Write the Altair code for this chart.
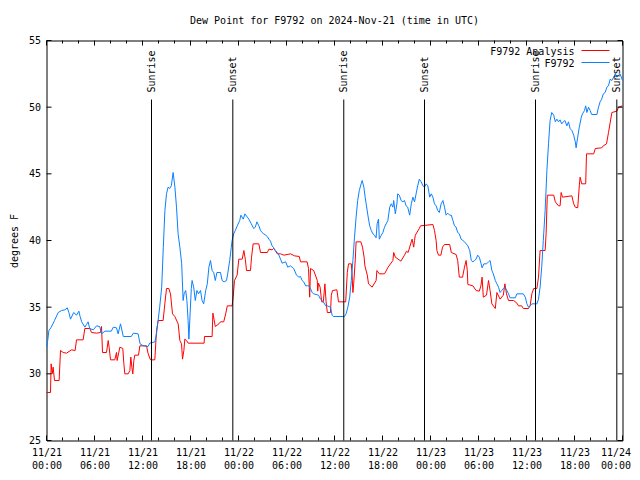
import altair as alt
import pandas as pd

# ---------------- data ----------------
title_text = "Dew Point for F9792 on 2024-Nov-21 (time in UTC)"
series_names = ["F9792 Analysis", "F9792"]
series_colors = ["#ff0000", "#0a80ff"]

# hours since 2024-11-21 00:00 UTC
red_hours = [0, 0.5, 0.58, 0.71, 0.83, 1.0, 1.58, 1.75, 2.08, 2.5, 3.13, 3.58, 3.75, 4.58, 4.79, 5.42, 5.63,
             6.25, 6.75, 6.88, 7.0, 7.5, 7.71, 7.83, 8.0, 8.54, 8.75, 8.83, 9.17, 9.54, 9.67, 9.79, 10.21,
             10.42, 10.54, 10.67, 10.79, 10.92, 11.04, 11.5, 11.67, 12.5, 12.71, 13.0, 13.54, 13.75, 13.96,
             14.58, 14.79, 15.0, 15.29, 15.5, 15.75, 16.04, 16.46, 16.67, 16.88, 17.0, 17.17, 17.29, 17.5,
             17.71, 19.7, 19.75, 20.7, 20.8, 21.1, 21.55, 21.75, 22.15, 22.4, 22.6, 23.2, 23.33, 23.5, 23.83,
             24.04, 24.46, 24.67, 24.85, 25.0, 25.5, 25.63, 25.83, 26.54, 26.75, 27.6, 27.8, 28.2, 28.4, 28.6,
             28.85, 29.25, 29.67, 30.5, 31.0, 31.6, 31.75, 32.58, 32.75, 32.9, 33.0, 33.4, 33.85, 33.9, 34.0,
             34.2, 34.4, 34.6, 34.8, 34.95, 35.1, 35.5, 35.6, 35.75, 36.3, 36.5, 37.4, 37.6, 37.75, 38.1,
             38.2, 38.3, 38.4, 38.6, 38.7, 39.3, 39.5, 39.7, 39.8, 40.1, 40.25, 40.7, 41.2, 41.3, 41.6, 42.25,
             42.7, 43.3, 43.4, 43.6, 44.3, 44.75, 45.0, 45.2, 45.6, 45.7, 45.9, 46.0, 46.1, 46.6, 46.75, 48.3,
             48.5, 48.7, 48.8, 49.0, 49.3, 49.5, 49.75, 50.4, 50.6, 51.2, 51.4, 51.6, 52.0, 52.25, 52.45, 52.6,
             52.67, 53.3, 53.7, 54.1, 54.3, 54.45, 54.6, 55.0, 55.25, 55.45, 55.67, 56.1, 56.3, 56.7, 57.1,
             57.3, 57.5, 57.75, 58.4, 58.8, 59.0, 59.4, 59.6, 60.25, 60.45, 60.67, 60.9, 61.3, 61.5, 61.7,
             62.33, 62.45, 62.6, 63.4, 63.6, 64.0, 64.2, 64.33, 64.5, 65.67, 65.9, 66.1, 66.4, 66.6, 66.7,
             66.9, 67.4, 67.5, 68.4, 68.6, 69.4, 69.6, 70.0, 70.25, 70.67, 71.3, 71.5, 72.0]
red_values = [28.6, 28.6, 30.75, 30.0, 30.5, 29.5, 29.5, 31.75, 31.6, 31.55, 31.8, 31.75, 32.55, 32.55, 33.4,
              33.4, 33.1, 33.05, 33.1, 33.55, 31.6, 31.6, 32.5, 32.0, 31.05, 31.05, 31.6, 31.0, 32.0, 31.9,
              30.75, 30.0, 30.0, 30.25, 31.25, 30.5, 30.0, 31.0, 31.4, 31.4, 32.1, 32.1, 31.5, 31.05, 31.05,
              33.25, 34.0, 34.0, 35.25, 36.4, 36.4, 36.0, 34.5, 34.3, 33.75, 32.5, 32.25, 31.1, 31.75, 32.6,
              32.5, 32.3, 32.3, 32.8, 32.8, 34.55, 33.55, 33.75, 33.9, 33.9, 34.5, 35.1, 35.1, 35.75, 37.0,
              37.4, 38.6, 38.6, 39.25, 38.6, 37.75, 37.75, 38.75, 39.75, 39.75, 39.1, 39.1, 39.35, 39.3, 39.4,
              39.25, 39.0, 39.0, 38.9, 39.0, 38.85, 38.8, 38.4, 38.4, 37.9, 35.75, 37.9, 37.75, 37.0, 36.2,
              36.8, 36.5, 35.4, 35.4, 36.75, 35.4, 34.6, 34.6, 35.9, 36.25, 36.3, 35.4, 35.4, 37.6, 38.25,
              38.25, 37.4, 36.1, 36.75, 38.6, 39.9, 39.9, 39.5, 38.75, 38.1, 37.4, 36.75, 36.5, 37.0, 37.75,
              37.5, 37.5, 38.0, 38.5, 39.1, 38.75, 38.45, 38.9, 39.2, 39.1, 39.9, 40.1, 39.5, 40.0, 40.4, 40.9,
              41.1, 41.2, 40.75, 40.0, 39.25, 38.9, 38.9, 39.5, 39.7, 39.7, 39.1, 38.95, 38.5, 37.25, 37.25,
              38.0, 38.5, 37.75, 36.7, 36.6, 36.25, 36.2, 36.6, 37.25, 35.75, 35.9, 37.0, 36.25, 35.25, 34.9,
              36.1, 35.6, 35.9, 36.75, 36.0, 35.5, 35.5, 35.3, 35.1, 35.1, 34.9, 34.9, 35.1, 36.0, 36.4, 36.4,
              37.25, 39.25, 39.25, 40.5, 43.4, 43.4, 42.9, 42.6, 42.6, 43.6, 43.25, 43.35, 42.75, 42.5, 42.45,
              44.1, 44.75, 44.25, 44.25, 46.5, 46.5, 46.9, 46.95, 47.1, 47.25, 48.1, 49.6, 49.7, 50.0, 50.1]

blue_hours = [0, 0.15, 0.3, 0.6, 1.0, 1.46, 1.9, 2.3, 2.6, 2.8, 3.0, 3.4, 3.75, 4.05, 4.2, 4.4, 4.8, 5.0, 5.2,
              5.4, 5.85, 6.25, 6.65, 6.9, 7.3, 8.1, 8.35, 8.75, 8.95, 9.25, 9.6, 10.6, 10.85, 11.45, 11.7,
              12.1, 12.7, 12.9, 13.55, 13.75, 13.95, 14.15, 14.4, 14.6, 14.8, 15.0, 15.2, 15.4, 15.6, 15.83,
              16.05, 16.25, 16.45, 16.67, 16.9, 17.08, 17.2, 17.4, 17.55, 17.7, 17.8, 17.95, 18.1, 18.2, 18.4,
              18.6, 18.8, 19.0, 19.25, 19.45, 19.65, 19.9, 20.1, 20.3, 20.5, 20.7, 20.9, 21.1, 21.3, 21.75,
              21.95, 22.2, 22.5, 22.65, 22.9, 23.1, 23.2, 23.4, 23.6, 23.85, 24.15, 24.3, 24.6, 24.8, 25.1,
              25.3, 25.6, 25.9, 26.1, 26.3, 26.55, 26.75, 26.95, 27.15, 27.4, 27.6, 27.8, 28.0, 28.2, 28.4,
              28.6, 28.85, 29.05, 29.25, 29.45, 29.9, 30.15, 30.5, 30.7, 30.9, 31.25, 31.55, 31.75, 31.95,
              32.15, 32.4, 32.6, 32.8, 33.0, 33.2, 33.4, 34.0, 34.25, 34.6, 34.9, 35.1, 35.5, 35.7, 35.85,
              37.25, 37.45, 37.67, 37.9, 38.1, 38.3, 38.5, 38.7, 38.9, 39.1, 39.33, 39.46, 39.67, 39.83, 39.96,
              40.17, 40.4, 40.6, 40.8, 41.0, 41.2, 41.33, 41.5, 41.6, 41.85, 42.05, 42.25, 42.45, 42.67, 42.9,
              43.1, 43.3, 43.4, 43.6, 43.8, 43.9, 44.1, 44.33, 44.55, 44.75, 44.95, 45.15, 45.4, 45.6, 45.8,
              46.0, 46.2, 46.4, 46.6, 46.83, 47.05, 47.25, 47.45, 47.67, 47.9, 48.1, 48.3, 48.5, 48.7, 48.9,
              49.1, 49.33, 49.55, 49.75, 49.95, 50.15, 50.4, 50.6, 50.8, 51.0, 51.2, 51.4, 51.6, 51.83, 52.05,
              52.25, 52.45, 52.67, 52.9, 53.1, 53.3, 53.5, 53.7, 53.9, 54.1, 54.33, 54.45, 54.67, 55.0, 55.25,
              55.45, 55.67, 55.85, 56.1, 56.3, 56.5, 56.7, 56.9, 57.1, 57.3, 57.55, 57.75, 57.95, 58.6, 58.8,
              59.6, 59.85, 60.05, 60.25, 60.45, 60.67, 61.3, 61.5, 61.7, 61.9, 62.1, 62.33, 62.55, 62.75, 62.95,
              63.15, 63.4, 63.6, 63.8, 64.0, 64.2, 64.4, 64.6, 64.8, 65.05, 65.25, 65.45, 65.67, 65.9, 66.1,
              66.2, 66.4, 66.6, 66.85, 67.0, 67.25, 67.4, 67.55, 67.75, 67.95, 68.15, 68.8, 69.0, 69.2, 69.4,
              69.6, 69.83, 70.05, 70.25, 70.45, 70.67, 70.9, 71.1, 71.3, 71.5, 71.7, 72.0]
blue_values = [32.0, 32.5, 33.25, 33.5, 34.0, 34.6, 34.75, 34.8, 34.95, 34.6, 34.1, 34.6, 34.4, 34.7, 34.3, 33.9,
               33.5, 33.7, 33.9, 33.4, 33.3, 33.6, 33.55, 33.0, 33.2, 33.2, 33.5, 33.45, 33.0, 33.75, 32.8,
               32.8, 33.05, 33.0, 32.25, 32.1, 32.05, 32.3, 32.4, 33.0, 34.0, 35.0, 36.5, 39.5, 42.25, 43.5,
               44.0, 43.9, 44.1, 45.1, 44.0, 42.5, 40.5, 39.5, 38.25, 35.5, 36.0, 36.25, 35.5, 34.0, 32.6, 34.5,
               36.4, 37.0, 36.5, 35.5, 36.25, 36.0, 36.25, 35.5, 35.25, 36.25, 36.75, 38.0, 38.5, 37.75, 37.6,
               37.0, 37.6, 37.6, 37.0, 36.9, 37.0, 37.5, 38.5, 39.5, 40.0, 40.5, 40.75, 41.1, 41.5, 41.9, 41.6,
               42.0, 41.75, 41.6, 41.25, 40.9, 41.0, 41.4, 41.1, 40.75, 40.6, 40.5, 40.4, 40.3, 40.1, 39.95,
               39.6, 39.45, 39.25, 39.1, 38.9, 38.6, 38.3, 38.4, 38.0, 38.1, 38.0, 37.9, 37.4, 37.25, 37.3,
               37.0, 36.9, 36.6, 36.6, 36.6, 36.4, 36.1, 36.0, 35.9, 35.6, 35.4, 35.1, 35.1, 35.0, 34.4, 34.3,
               34.3, 34.5, 35.0, 35.75, 37.0, 38.5, 40.25, 41.75, 43.0, 43.75, 44.25, 44.5, 44.0, 43.25, 42.75,
               41.9, 41.1, 40.75, 40.5, 40.4, 40.2, 41.25, 41.6, 40.1, 40.4, 40.6, 41.0, 41.25, 41.5, 42.5,
               42.75, 42.5, 43.0, 42.0, 42.75, 43.5, 43.4, 43.0, 42.9, 43.0, 42.6, 42.5, 41.9, 42.75, 43.25,
               42.9, 43.5, 44.1, 44.6, 44.4, 44.1, 44.0, 44.25, 44.1, 43.25, 43.5, 43.25, 42.75, 42.6, 42.25,
               42.1, 42.75, 43.0, 42.5, 41.9, 42.05, 41.9, 41.9, 41.5, 41.1, 41.0, 40.6, 40.5, 40.1, 40.0,
               39.9, 39.75, 39.6, 39.25, 38.5, 38.4, 38.5, 38.6, 38.9, 38.75, 38.25, 37.95, 38.25, 38.25, 38.4,
               38.5, 37.75, 37.5, 37.0, 36.75, 36.5, 36.1, 36.25, 36.4, 36.5, 36.25, 36.0, 35.7, 35.7, 36.0,
               36.0, 35.75, 35.25, 35.0, 35.1, 35.25, 35.25, 35.6, 36.5, 38.0, 40.0, 42.25, 45.25, 47.25, 49.0,
               49.6, 49.4, 48.9, 49.1, 48.9, 49.05, 48.75, 48.9, 49.0, 48.6, 48.9, 48.4, 48.25, 47.9, 47.4,
               46.95, 47.75, 48.5, 49.25, 49.5, 49.75, 50.1, 49.6, 50.0, 49.75, 49.45, 49.45, 50.0, 50.4, 50.6,
               51.0, 51.1, 51.5, 51.6, 52.1, 52.0, 52.25, 52.5, 52.25, 52.4, 52.5, 52.0]

event_hours = [13.125, 23.29, 37.16, 47.25, 61.125, 71.29]
event_labels = ["Sunrise", "Sunset", "Sunrise", "Sunset", "Sunrise", "Sunset"]

x_tick_hours = [0, 6, 12, 18, 24, 30, 36, 42, 48, 54, 60, 66, 72]
x_tick_dates = ["11/21", "11/21", "11/21", "11/21", "11/22", "11/22", "11/22", "11/22",
                "11/23", "11/23", "11/23", "11/23", "11/24"]
x_tick_times = ["00:00", "06:00", "12:00", "18:00", "00:00", "06:00", "12:00", "18:00",
                "00:00", "06:00", "12:00", "18:00", "00:00"]
x_minor_hours = [h for h in range(0, 73, 2) if h % 6 != 0]
y_tick_values = [25, 30, 35, 40, 45, 50, 55]

# ---------------- layout / style ----------------
W, H = 576, 400
FONT = "DejaVu Sans Mono"
FS = 10
MAJOR, MINOR = 5, 3

red_df = pd.DataFrame({"h": red_hours, "v": red_values, "series": series_names[0]})
blue_df = pd.DataFrame({"h": blue_hours, "v": blue_values, "series": series_names[1]})
event_df = pd.DataFrame({"h": event_hours, "label": event_labels})
xmaj_df = pd.DataFrame({"h": x_tick_hours})
xmin_df = pd.DataFrame({"h": x_minor_hours})
ytick_df = pd.DataFrame({"v": y_tick_values})
legend_df = pd.DataFrame({"series": series_names, "color": series_colors})
title_df = pd.DataFrame({"t": [title_text]})

label_arr = "[" + ",".join(f"['{d}','{t}']" for d, t in zip(x_tick_dates, x_tick_times)) + "]"
label_expr = f"{label_arr}[round(datum.value / 6)]"

xscale = alt.Scale(domain=[0, 72], nice=False, zero=False)
yscale = alt.Scale(domain=[25, 55], nice=False, zero=False)

x_axis = alt.Axis(values=x_tick_hours, labelExpr=label_expr, tickSize=0, domain=False, grid=False,
                  labelFont=FONT, labelFontSize=FS, labelColor="black", labelPadding=7,
                  labelLineHeight=13, labelFlush=False, labelOverlap=False, labelBound=False,
                  labelBaseline="top", title=None,
                  labelOffset=alt.condition("datum.value >= 72", alt.value(-7), alt.value(0)))
y_axis = alt.Axis(values=y_tick_values, tickSize=0, domain=False, grid=False,
                  labelFont=FONT, labelFontSize=FS, labelColor="black", labelPadding=6,
                  labelOverlap=False, labelBound=False, labelFlush=False,
                  title="degrees F", titleFont=FONT, titleFontSize=FS, titleFontWeight="normal",
                  titleColor="black", titleAngle=270, titleX=-32, titleY=H / 2,
                  titleAlign="center", titleBaseline="middle")


def X():
    return alt.X("h:Q", scale=xscale, axis=x_axis)


def Y():
    return alt.Y("v:Q", scale=yscale, axis=y_axis)


red_line = alt.Chart(red_df).mark_line(color=series_colors[0], strokeWidth=1).encode(x=X(), y=Y())
blue_line = alt.Chart(blue_df).mark_line(color=series_colors[1], strokeWidth=1).encode(x=X(), y=Y())

event_rules = alt.Chart(event_df).mark_rule(color="black", strokeWidth=1).encode(
    x=X(), y=alt.value(59), y2=alt.value(H)
)
event_text = alt.Chart(event_df).mark_text(
    angle=270, align="left", baseline="middle", font=FONT, fontSize=FS, color="black"
).encode(x=X(), y=alt.value(52), text="label:N")


def xticks(df, length):
    bottom = alt.Chart(df).mark_rule(color="black", strokeWidth=1).encode(
        x=X(), y=alt.value(H), y2=alt.value(H - length))
    top = alt.Chart(df).mark_rule(color="black", strokeWidth=1).encode(
        x=X(), y=alt.value(0), y2=alt.value(length))
    return [bottom, top]


yt_left = alt.Chart(ytick_df).mark_rule(color="black", strokeWidth=1).encode(
    y=Y(), x=alt.value(0), x2=alt.value(MAJOR))
yt_right = alt.Chart(ytick_df).mark_rule(color="black", strokeWidth=1).encode(
    y=Y(), x=alt.value(W), x2=alt.value(W - MAJOR))

legend_layers = []
for i, (name, col) in enumerate(zip(series_names, series_colors)):
    sub = legend_df[legend_df["series"] == name]
    legend_layers.append(
        alt.Chart(sub).mark_text(align="right", baseline="alphabetic", font=FONT, fontSize=FS,
                                 color="black").encode(
            x=alt.value(528), y=alt.value(14 + 12 * i), text="series:N"))
    legend_layers.append(
        alt.Chart(sub).mark_rule(color=col, strokeWidth=1).encode(
            x=alt.value(535), x2=alt.value(563), y=alt.value(10 + 12 * i)))

title_layer = alt.Chart(title_df).mark_text(
    align="center", baseline="alphabetic", font=FONT, fontSize=FS, color="black"
).encode(x=alt.value(W / 2), y=alt.value(-16.5), text="t:N")

chart = alt.layer(
    red_line, blue_line, event_rules, event_text,
    *xticks(xmaj_df, MAJOR), *xticks(xmin_df, MINOR), yt_left, yt_right,
    *legend_layers, title_layer,
).properties(
    width=W, height=H,
    autosize=alt.AutoSizeParams(type="none"),
    padding={"left": 38.5, "top": 32.5, "right": 9.5, "bottom": 31},
    background="white",
).configure_view(stroke="black", strokeWidth=1)

chart.save("out.html", embed_options={"renderer": "svg", "actions": False})
